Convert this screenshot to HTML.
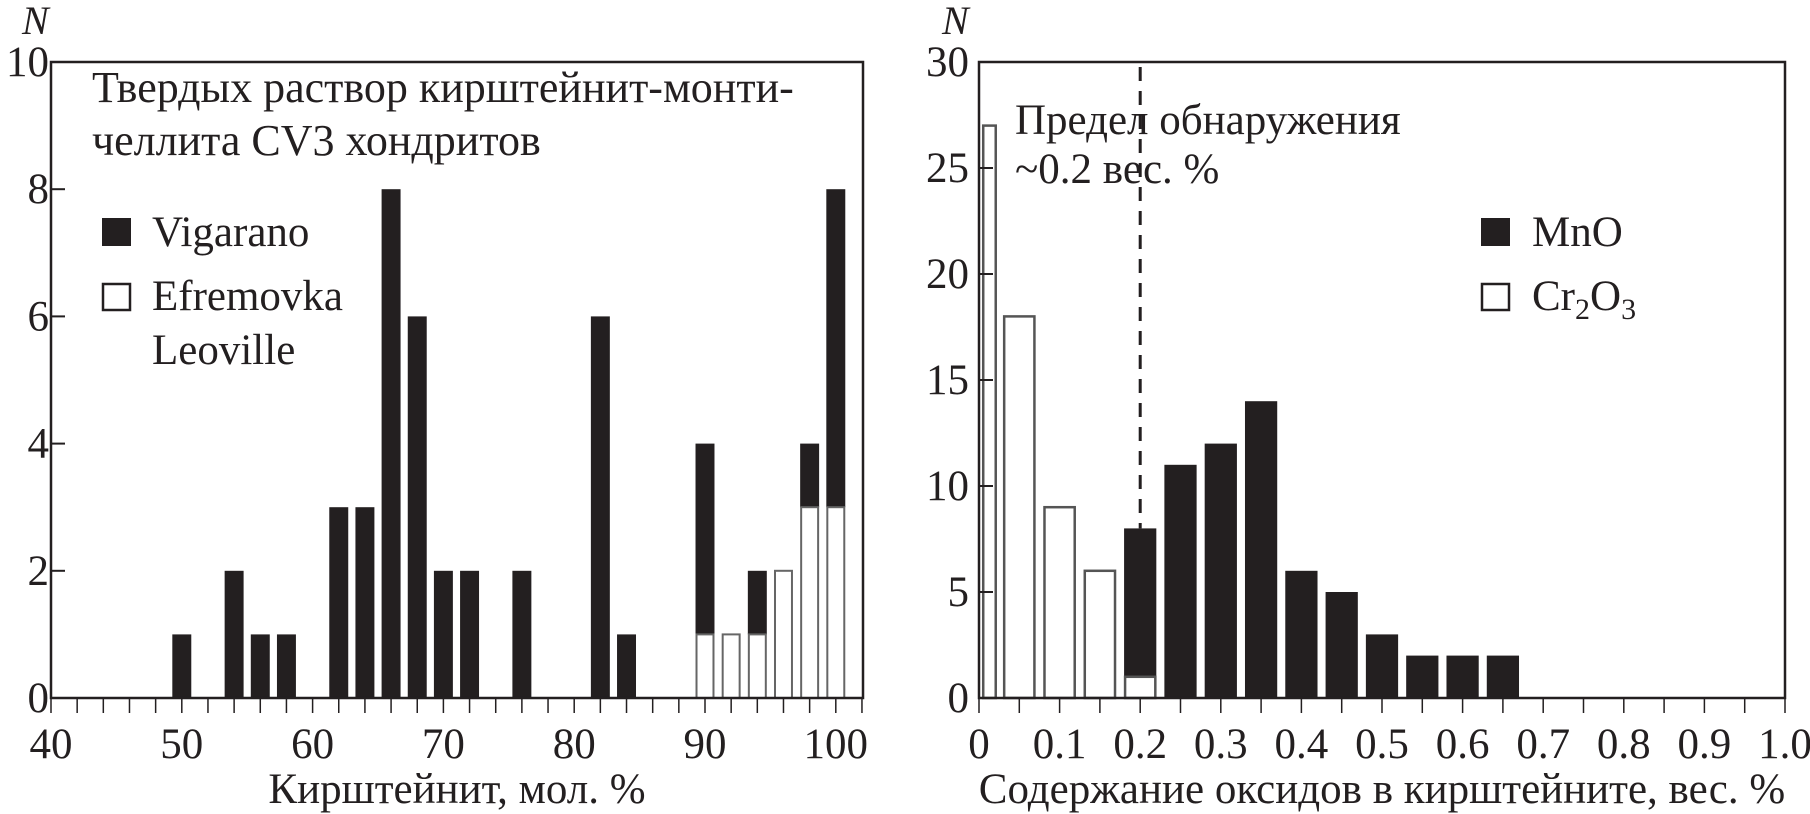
<!DOCTYPE html>
<html><head><meta charset="utf-8"><style>
html,body{margin:0;padding:0;background:#fff;}
svg{display:block;font-family:"Liberation Serif","DejaVu Serif",serif;}
</style></head><body>
<svg id="c" width="1810" height="814" viewBox="0 0 1810 814" xmlns="http://www.w3.org/2000/svg"></svg>
<script>
// Left chart data
const leftCats = [50,54,56,58,62,64,66,68,70,72,76,82,84,90,92,94,96,98,100];
const leftTotal = [1,2,1,1,3,3,8,6,2,2,2,6,1,4,1,2,2,4,8];
const leftOpen  = [0,0,0,0,0,0,0,0,0,0,0,0,0,1,1,1,2,3,3];
const leftXTicks = [40,50,60,70,80,90,100];
const leftYTicks = [0,2,4,6,8,10];
// Right chart data
const rightCats = [0.013,0.05,0.1,0.15,0.2,0.25,0.3,0.35,0.4,0.45,0.5,0.55,0.6,0.65];
const rightWidths = [0.018,0.04,0.04,0.04,0.04,0.04,0.04,0.04,0.04,0.04,0.04,0.04,0.04,0.04];
const rightMnO = [0,0,0,0,7,11,12,14,6,5,3,2,2,2];
const rightCr  = [27,18,9,6,1,0,0,0,0,0,0,0,0,0];
const rightXTicks = ["0","0.1","0.2","0.3","0.4","0.5","0.6","0.7","0.8","0.9","1.0"];
const rightYTicks = [0,5,10,15,20,25,30];
const detectionLimit = 0.2;

const svg = document.getElementById('c');
const NS = 'http://www.w3.org/2000/svg';
function mk(tag, attrs, parent){
  const e = document.createElementNS(NS, tag);
  for (const k in attrs) e.setAttribute(k, attrs[k]);
  (parent||svg).appendChild(e);
  return e;
}
const BLACK = '#231f20';
const FS = 43;
const T = 62, B = 698;

// ---------- LEFT ----------
const L0 = 51, LFRAME = 863, LUNIT = 13.08;
const lx = v => L0 + (v-40)*LUNIT;
const ly = v => B - v/10*(B-T);
const gL = mk('g', {});


leftCats.forEach((c,i)=>{
  const w = 1.45*LUNIT;
  const x = lx(c)-w/2;
  if (leftTotal[i] > leftOpen[i]) {
    const r = mk('rect',{x:x,y:ly(leftTotal[i]),width:w,height:ly(leftOpen[i])-ly(leftTotal[i]),fill:BLACK}, gL);
    
    
  }
  if (leftOpen[i] > 0) {
    const r = mk('rect',{x:x+1,y:ly(leftOpen[i]),width:w-2,height:ly(0)-ly(leftOpen[i]),fill:'#fff',stroke:'#666','stroke-width':2}, gL);
    
    
  }
});
mk('rect',{x:L0,y:T,width:LFRAME-L0,height:B-T,fill:'none',stroke:BLACK,'stroke-width':2.5}, gL);
for (let v=40; v<=102; v+=2) mk('line',{x1:lx(v),x2:lx(v),y1:B,y2:B+15,stroke:BLACK,'stroke-width':1.5}, gL);
leftXTicks.forEach(v=>{
  const t = mk('text',{x:lx(v),y:758,'font-size':FS,'text-anchor':'middle',fill:BLACK}, gL);
  t.textContent = v;
  
  
});
leftYTicks.forEach(v=>{
  mk('line',{x1:L0,x2:L0+14,y1:ly(v),y2:ly(v),stroke:BLACK,'stroke-width':2}, gL);
  const t = mk('text',{x:49,y:ly(v)+14,'font-size':FS,'text-anchor':'end',fill:BLACK}, gL);
  t.textContent = v;
  
  
});

// ---------- RIGHT ----------
const R0 = 979, R1 = 1785;
const rx = v => R0 + v*(R1-R0);
const ry = v => B - v/30*(B-T);
const gR = mk('g', {});


rightCats.forEach((c,i)=>{
  const w = rightWidths[i]*(R1-R0);
  const x = rx(c)-w/2;
  const tot = rightMnO[i] + rightCr[i];
  if (rightMnO[i] > 0) {
    const r = mk('rect',{x:x,y:ry(tot),width:w,height:ry(rightCr[i])-ry(tot),fill:BLACK}, gR);
    
    
  }
  if (rightCr[i] > 0) {
    const r = mk('rect',{x:x+1,y:ry(rightCr[i]),width:w-2,height:ry(0)-ry(rightCr[i]),fill:'#fff',stroke:'#555','stroke-width':2.5}, gR);
    
    
  }
});
mk('rect',{x:R0,y:T,width:R1-R0,height:B-T,fill:'none',stroke:BLACK,'stroke-width':2.5}, gR);
const dl = mk('line',{x1:rx(detectionLimit),x2:rx(detectionLimit),y1:T+5,y2:ry(rightMnO[4]+rightCr[4]),stroke:BLACK,'stroke-width':3,'stroke-dasharray':'14 10'}, gR);


for (let k=0; k<=20; k++) mk('line',{x1:rx(k*0.05),x2:rx(k*0.05),y1:B,y2:B+15,stroke:BLACK,'stroke-width':1.5}, gR);
rightXTicks.forEach((s,i)=>{
  const t = mk('text',{x:rx(i/10),y:758,'font-size':FS,'text-anchor':'middle',fill:BLACK}, gR);
  t.textContent = s;
  
  
});
rightYTicks.forEach(v=>{
  mk('line',{x1:R0,x2:R0+14,y1:ry(v),y2:ry(v),stroke:BLACK,'stroke-width':2}, gR);
  const t = mk('text',{x:969,y:ry(v)+14,'font-size':FS,'text-anchor':'end',fill:BLACK}, gR);
  t.textContent = v;
  
  
});
</script>
<script>
document.getElementById('c').insertAdjacentHTML('beforeend', `
<text x="22" y="34" font-size="40" font-style="italic" fill="#231f20">N</text>
<text x="942" y="34" font-size="40" font-style="italic" fill="#231f20">N</text>
<text x="92" y="102" font-size="44" fill="#231f20">Твердых раствор кирштейнит-монти-</text>
<text x="92" y="155" font-size="44" fill="#231f20">челлита CV3 хондритов</text>
<rect x="102" y="218" width="29" height="28" fill="#231f20"/>
<text x="152" y="246" font-size="43" fill="#231f20">Vigarano</text>
<rect x="103" y="284" width="27" height="26" fill="#fff" stroke="#231f20" stroke-width="2.5"/>
<text x="152" y="310" font-size="43" fill="#231f20">Efremovka</text>
<text x="152" y="364" font-size="43" fill="#231f20">Leoville</text>
<text x="457" y="803" font-size="43" text-anchor="middle" fill="#231f20">Кирштейнит, мол. %</text>
<text x="1015" y="134" font-size="43" fill="#231f20">Предел обнаружения</text>
<text x="1015" y="183" font-size="43" fill="#231f20">~0.2 вес. %</text>
<rect x="1481" y="218" width="29" height="28" fill="#231f20"/>
<text x="1532" y="246" font-size="43" fill="#231f20">MnO</text>
<rect x="1482" y="284" width="27" height="26" fill="#fff" stroke="#231f20" stroke-width="2.5"/>
<text x="1532" y="310" font-size="43" fill="#231f20">Cr<tspan font-size="30" dy="9">2</tspan><tspan dy="-9">O</tspan><tspan font-size="30" dy="9">3</tspan></text>
<text x="1382" y="803" font-size="43" text-anchor="middle" fill="#231f20">Содержание оксидов в кирштейните, вес. %</text>
`);
</script>
</body></html>
